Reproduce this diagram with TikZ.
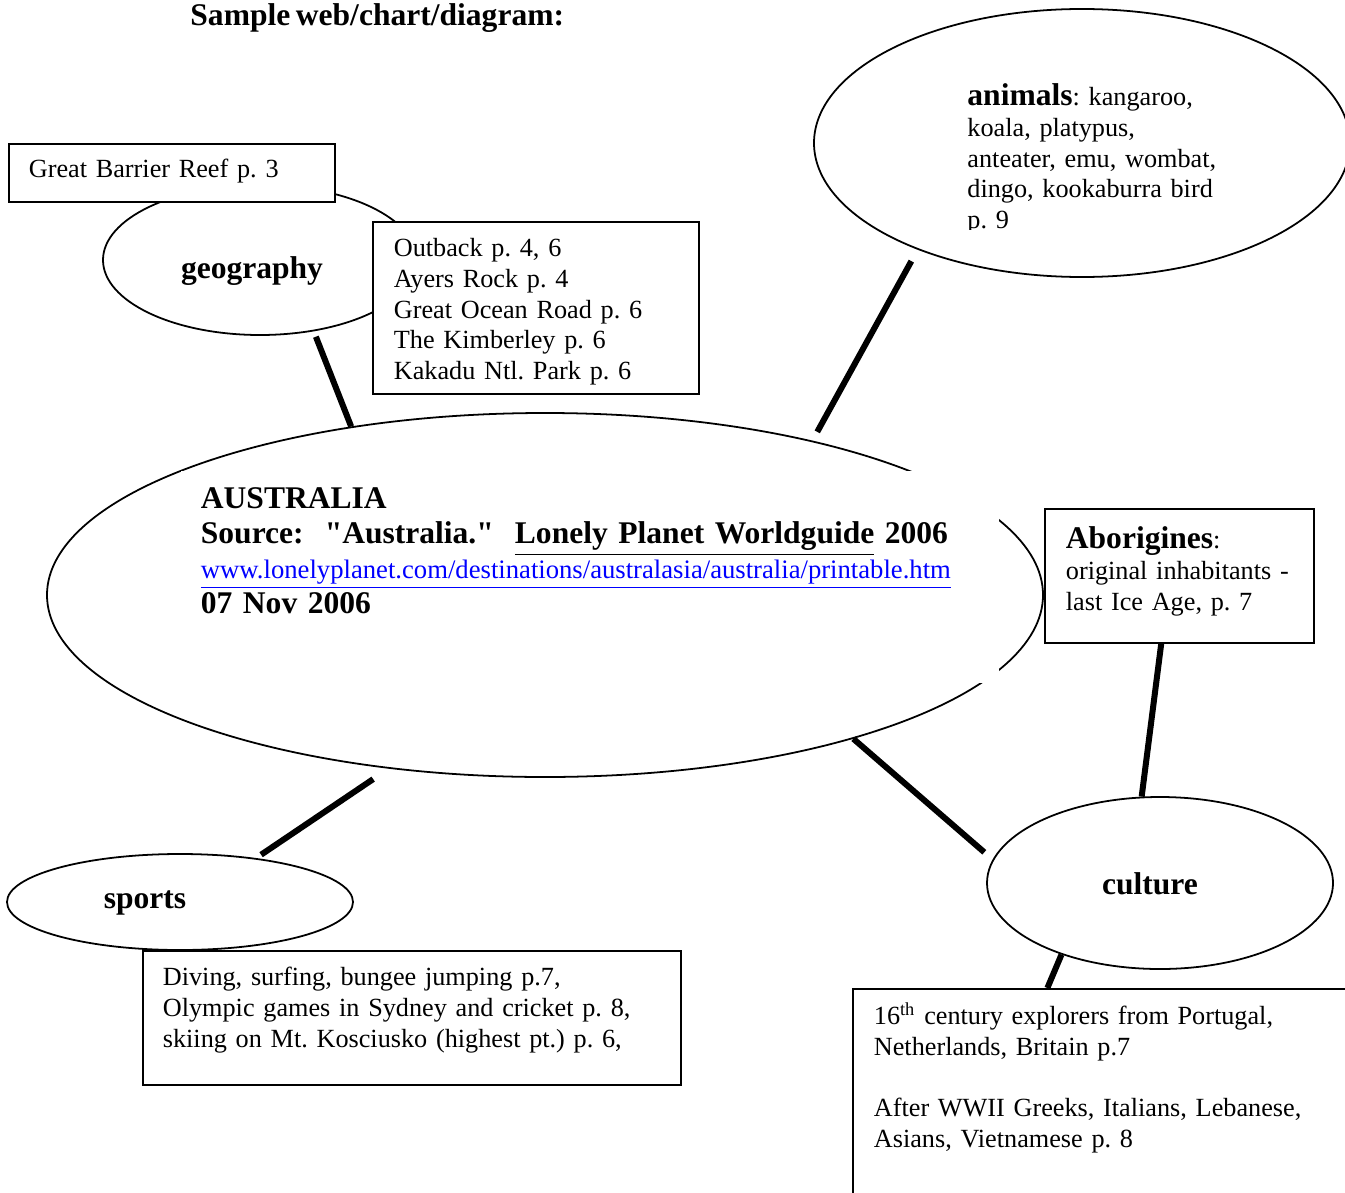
\documentclass[tikz,border=0pt]{standalone}
\usepackage{fontspec}
\setmainfont{Liberation Serif}[WordSpace=0.7]
\usetikzlibrary{shapes.geometric}
\frenchspacing
\newcommand{\bodyfont}{\fontsize{11.8}{13.8}\selectfont}
\newcommand{\headfont}{\fontsize{14.2}{15.75}\selectfont\bfseries}
\tikzset{
  bubble/.style={ellipse, draw, line width=0.8pt, inner sep=0pt},
  infobox/.style={rectangle, draw, fill=white, line width=0.8pt, anchor=north west,
    inner ysep=0pt, align=left, font=\bodyfont},
  link/.style={line width=2.7pt},
  topic/.style={font=\headfont}
}

\begin{document}
\begin{tikzpicture}[x=0.45pt, y=-0.45pt]
    \useasboundingbox (0,0) rectangle (1345,1192);
    \fill[white] (0,0) rectangle (1345,1192);

    \node[topic, anchor=base west, inner sep=0pt] (title) at (190,26) {Sample web/chart/diagram:};

    % the ovals
    \node[bubble, minimum width=141.3pt, minimum height=67.5pt] (geo) at (260,260) {};
    \node[bubble, minimum width=241.2pt, minimum height=120.6pt] (animals) at (1082,143) {};
    \node[bubble, minimum width=448.2pt, minimum height=163.8pt] (aus) at (545,595) {};
    \node[bubble, minimum width=155.7pt, minimum height=77.4pt] (culture) at (1160,883) {};
    \node[bubble, minimum width=155.7pt, minimum height=43.2pt] (sports) at (180,902) {};

    \node[topic] (geolabel) at (252,271) {geography};
    \node[topic] (sportslabel) at (145,903) {sports};
    \node[topic] (culturelabel) at (1150,884) {culture};

    \begin{scope}
        \clip (900,60) rectangle (1300,229);
        \node[anchor=base west, align=left, text width=121.5pt, inner sep=0pt, font=\bodyfont]
            (animaltext) at (967,106)
            {{\headfont animals}: kangaroo,\\ koala, platypus,\\ anteater, emu, wombat,\\
             dingo, kookaburra bird\\ p. 9};
    \end{scope}

    % the boxes
    \node[infobox, inner xsep=9pt, text width=128.7pt, text height=15.3pt, text depth=10.8pt]
        (reef) at (8,143) {Great Barrier Reef p. 3};
    \node[infobox, inner xsep=9.45pt, text width=127.8pt, text height=15.75pt, text depth=61.65pt]
        (places) at (372,221)
        {Outback p. 4, 6\\ Ayers Rock p. 4\\ Great Ocean Road p. 6\\ The Kimberley p. 6\\
         Kakadu Ntl. Park p. 6};
    \node[infobox, draw=none, inner xsep=9pt, text width=350.1pt, text height=17.1pt,
        text depth=78.3pt, font=\headfont] (source) at (180,470)
        {AUSTRALIA\\
         Source:\ \ \textquotedbl Australia.\textquotedbl\ \ \underline{Lonely Planet Worldguide} 2006\\
         {\fontsize{12}{13.8}\selectfont\mdseries\color{blue}\underline{www.lonelyplanet.com/destinations/australasia/australia/printable.htm}}\\
         07 Nov 2006};
    \node[infobox, inner xsep=9.45pt, text width=102.15pt, text height=18pt, text depth=42.3pt]
        (abor) at (1044,508)
        {{\headfont Aborigines}:\\ original inhabitants~-\\ last Ice Age, p. 7};
    \node[infobox, inner xsep=9pt, text width=224.1pt, text height=15.75pt, text depth=44.55pt]
        (games) at (142,950)
        {Diving, surfing, bungee jumping p.7,\\ Olympic games in Sydney and cricket p. 8,\\
         skiing on Mt. Kosciusko (highest pt.) p. 6,};
    \node[infobox, inner xsep=9.45pt, text width=211.95pt, text height=16.2pt, text depth=83.7pt]
        (history) at (852,988)
        {16\textsuperscript{th} century explorers from Portugal,\\ Netherlands, Britain p.7\\[13.8pt]
         After WWII Greeks, Italians, Lebanese,\\ Asians, Vietnamese p. 8};

    % links
    \draw[link, shorten <=2.6pt] (geo.-53) -- (aus.139.5);
    \draw[link, shorten <=5.85pt, shorten >=4.5pt] (animals.-147) -- (aus.30.2);
    \draw[link, shorten >=4.95pt] (aus.-25.2) -- (culture.172.2);
    \draw[link] (abor.-105.4) -- (culture.102.5);
    \draw[link] (culture.-144.9) -- (history.119.8);
    \draw[link, shorten <=8.4pt, shorten >=2.7pt] (aus.-132.4) -- (sports.30.8);
\end{tikzpicture}
\end{document}
